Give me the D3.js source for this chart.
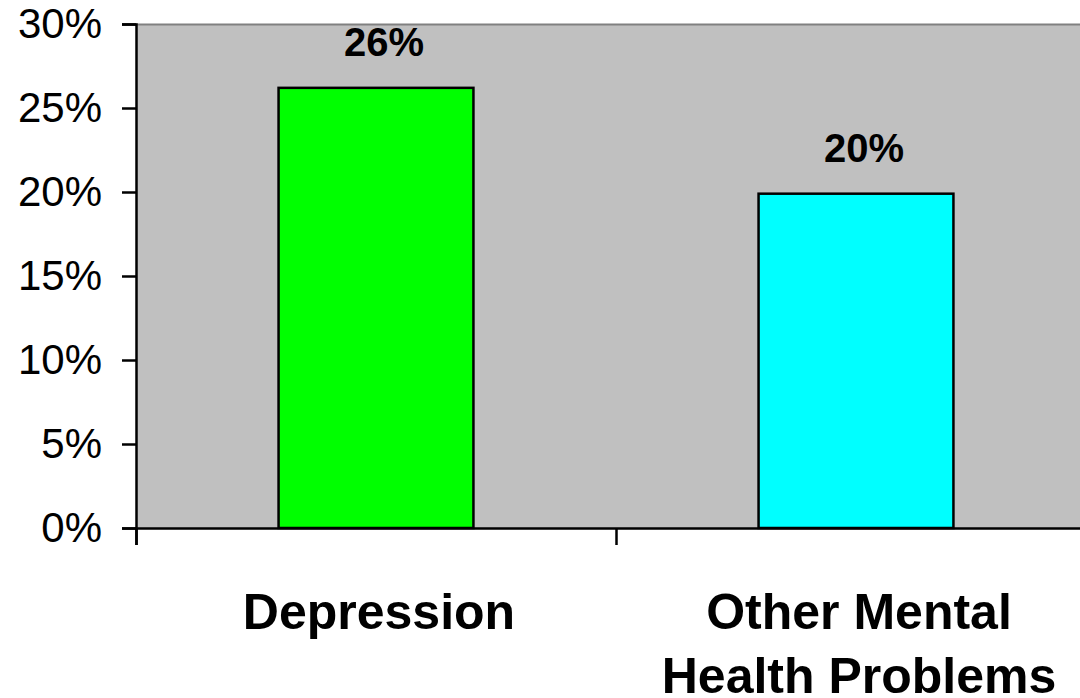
<!DOCTYPE html>
<html>
<head>
<meta charset="utf-8">
<script src="https://cdn.jsdelivr.net/npm/d3@7"></script>
<style>
  body { margin: 0; background: #fff; }
  svg { display: block; font-family: "Liberation Sans", Arial, sans-serif; }
</style>
</head>
<body>
<div id="chart-area"></div>
<script>
// chart data
const categories = ["Depression", "Other Mental|Health Problems"];
const values = [26.2, 19.9];
const valueLabels = ["26%", "20%"];
const barColors = ["#00ff00", "#00ffff"];
const yTicks = [0, 5, 10, 15, 20, 25, 30];

const totalWidth = 1080, totalHeight = 698;
const marginLeft = 136, marginTop = 24;
const width = 960;   // plot runs past the right edge, like the original
const height = 504;

const svg = d3.select("#chart-area")
  .append("svg")
    .attr("width", totalWidth)
    .attr("height", totalHeight);

const g = svg.append("g")
  .attr("transform", "translate(" + marginLeft + "," + marginTop + ")");

const xScale = d3.scaleBand()
  .domain(categories)
  .range([0, width])
  .paddingInner(0.594)
  .paddingOuter(0.297);

const yScale = d3.scaleLinear()
  .domain([0, 30])
  .range([height, 0]);

// plot background
g.append("rect")
  .attr("width", width)
  .attr("height", height)
  .attr("fill", "#c0c0c0");

g.append("line")
  .attr("x1", 0).attr("x2", width)
  .attr("y1", 0.5).attr("y2", 0.5)
  .attr("stroke", "#808080")
  .attr("stroke-width", 2);

// bars
g.selectAll("rect.bar")
  .data(values)
  .enter()
  .append("rect")
    .attr("class", "bar")
    .attr("x", (d, i) => xScale(categories[i]))
    .attr("y", d => yScale(d))
    .attr("width", xScale.bandwidth())
    .attr("height", d => height - yScale(d))
    .attr("fill", (d, i) => barColors[i])
    .attr("stroke", "#000")
    .attr("stroke-width", 2.5);

// value labels (sit a little right of the bar centre in the original)
g.selectAll("text.value")
  .data(values)
  .enter()
  .append("text")
    .attr("class", "value")
    .attr("x", (d, i) => xScale(categories[i]) + xScale.bandwidth() / 2 + 8)
    .attr("y", d => yScale(d) - 32)
    .attr("text-anchor", "middle")
    .attr("font-size", "40px")
    .attr("font-weight", "bold")
    .text((d, i) => valueLabels[i]);

// y axis
const yAxisCall = d3.axisLeft(yScale)
  .tickValues(yTicks)
  .tickSize(14)
  .tickPadding(20)
  .tickFormat(d => d + "%");
const yAxis = g.append("g")
  .attr("class", "y axis")
  .call(yAxisCall);
yAxis.select(".domain").attr("stroke", "#000").attr("stroke-width", 2.5);
yAxis.selectAll(".tick line").attr("stroke", "#000").attr("stroke-width", 2.5);
yAxis.selectAll(".tick text")
  .attr("font-size", "42px")
  .attr("font-family", "'Liberation Sans', Arial, sans-serif")
  .attr("fill", "#000");

// x axis: ticks sit between categories
const xBoundaries = d3.range(categories.length + 1).map(i => i * width / categories.length);
const xAxisCall = d3.axisBottom(d3.scaleLinear().domain([0, width]).range([0, width]))
  .tickValues(xBoundaries)
  .tickSize(17)
  .tickFormat("");
const xAxis = g.append("g")
  .attr("class", "x axis")
  .attr("transform", "translate(0," + height + ")")
  .call(xAxisCall);
xAxis.select(".domain").attr("stroke", "#000").attr("stroke-width", 2.5);
xAxis.selectAll(".tick line").attr("stroke", "#000").attr("stroke-width", 2.5);

// category labels
categories.forEach((cat, i) => {
  const lines = cat.split("|");
  const cx = xScale(cat) + xScale.bandwidth() / 2 + 3;
  const label = g.append("text")
    .attr("text-anchor", "middle")
    .attr("font-size", "50px")
    .attr("font-weight", "bold")
    .attr("x", cx)
    .attr("y", height + 101);
  lines.forEach((line, j) => {
    label.append("tspan")
      .attr("x", cx)
      .attr("dy", j === 0 ? 0 : 64)
      .text(line);
  });
});
</script>
</body>
</html>
